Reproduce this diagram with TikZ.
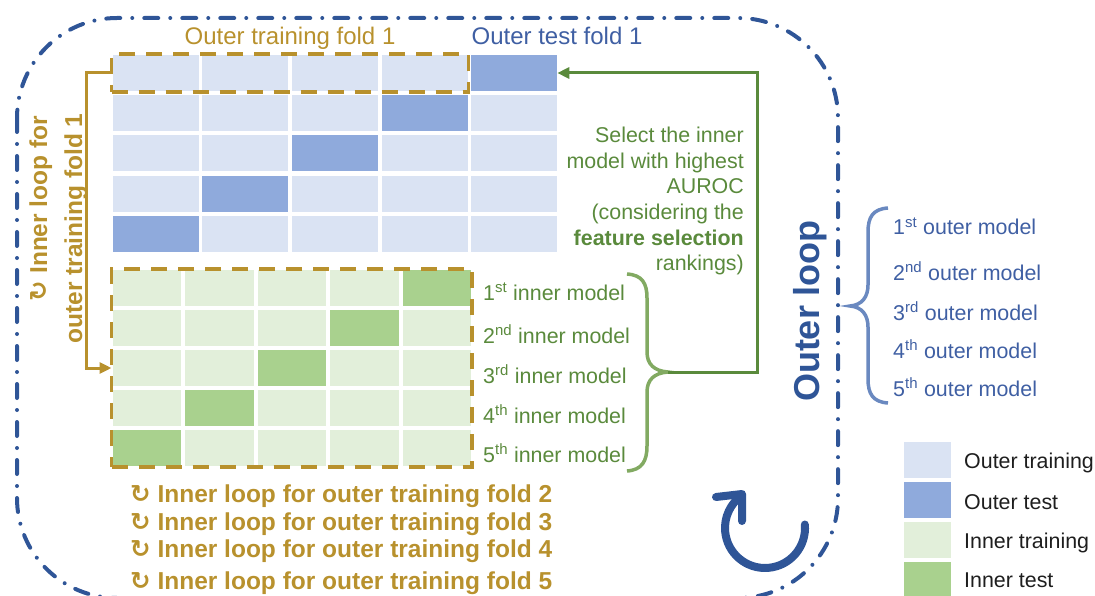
\documentclass[tikz,border=0pt]{standalone}
\usepackage{fontspec}
\setmainfont{Liberation Sans}
\newfontfamily\symfont{DejaVu Sans}
\usetikzlibrary{arrows.meta,fit,calc}
\definecolor{otrain}{HTML}{DAE3F3}
\definecolor{otest}{HTML}{8FAADC}
\definecolor{itrain}{HTML}{E2EFDA}
\definecolor{itest}{HTML}{A9D18E}
\definecolor{gold}{HTML}{B8912D}
\definecolor{dgreen}{HTML}{5A8A3C}
\definecolor{lgreen}{HTML}{82AA62}
\definecolor{dblue}{HTML}{2F5597}
\definecolor{mblue}{HTML}{3F5FA3}
\definecolor{lblue}{HTML}{6A89C0}
\definecolor{legtext}{HTML}{1E1E1E}
\newcommand{\loopsym}{{\symfont ↻}}
\begin{document}
\begin{tikzpicture}[x=1pt,y=-1pt,
  cell/.style={draw=none, inner sep=0pt, outer sep=0pt, anchor=north west},
  ocell/.style={cell, minimum width=86pt, minimum height=36pt},
  icell/.style={cell, minimum width=68.5pt, minimum height=36pt},
  legsq/.style={cell, minimum width=47pt, minimum height=36pt},
  goldbox/.style={draw=gold, line width=3.5pt, dash pattern=on 16pt off 11pt, inner sep=1pt, outer sep=0pt},
  txt/.style={inner sep=0pt, font=\fontsize{21.4}{25.5}\selectfont},
  lab/.style={txt, anchor=base west},
  ttl/.style={inner sep=0pt, anchor=base, font=\fontsize{24}{28}\selectfont},
  gbold/.style={inner sep=0pt, text=gold, font=\fontsize{24.5}{28}\selectfont\bfseries},
  goldarrow/.style={draw=gold, line width=3pt, -{Triangle[length=12pt,width=11pt]}},
  greenarrow/.style={draw=dgreen, line width=3pt, -{Triangle[length=12pt,width=11pt]}},
]
\useasboundingbox (0,0) rectangle (1095,596);

% outer loop border
\draw[dblue, line width=4pt, line cap=round, dash pattern=on 14pt off 12pt on 0pt off 12pt, rounded corners=100pt] (17,18) rectangle (838,598);

% outer grid
\foreach \ro in {1,...,5}{\foreach \co in {1,...,5}{
  \ifnum\numexpr\ro+\co\relax=6 \def\fc{otest}\else\def\fc{otrain}\fi
  \node[ocell, fill=\fc] (o\ro\co) at ({112.5+(\co-1)*89.7}, {55+(\ro-1)*40.2}) {};
}}
% inner grid
\foreach \ro in {1,...,5}{\foreach \co in {1,...,5}{
  \ifnum\numexpr\ro+\co\relax=6 \def\fc{itest}\else\def\fc{itrain}\fi
  \node[icell, fill=\fc] (i\ro\co) at ({112.5+(\co-1)*72.5}, {270+(\ro-1)*40}) {};
}}

\node[goldbox, fit=(o11)(o14)] (obox) {};
\node[goldbox, fit=(i11)(i55)] (ibox) {};

% titles
\node[ttl, text=gold] (tf) at (290,44.5) {Outer training fold 1};
\node[ttl, text=mblue] (tt) at (557,44.5) {Outer test fold 1};

% gold arrow
\draw[goldarrow] (obox.west) -- ++(-25.5,0) |- (ibox.west);

% vertical gold text
\node[gbold, rotate=90, anchor=base] (v1) at (47,208.5) {\loopsym\ Inner loop for};
\node[gbold, rotate=90, anchor=base] (v2) at (82,228.5) {outer training fold 1};

% inner model labels
\node[lab, text=dgreen] (im1) at (483,300) {1\textsuperscript{st} inner model};
\node[lab, text=dgreen] (im2) at (483,343) {2\textsuperscript{nd} inner model};
\node[lab, text=dgreen] (im3) at (483,383) {3\textsuperscript{rd} inner model};
\node[lab, text=dgreen] (im4) at (483,423) {4\textsuperscript{th} inner model};
\node[lab, text=dgreen] (im5) at (483,462) {5\textsuperscript{th} inner model};

% green brace
\draw[lgreen, line width=3.5pt] (627,274) .. controls (642,275) and (647,283) .. (647,298) -- (647,352) .. controls (647,364) and (654,371) .. (668,372) .. controls (654,373) and (647,380) .. (647,392) -- (647,446) .. controls (647,461) and (642,470) .. (627,471);
\coordinate (gtip) at (668,372);

% green arrow
\draw[greenarrow] (gtip) -- ++(89,0) |- (o15.east);

% select text
\node[txt, anchor=base east, text=dgreen] (s1) at (744,143) {Select the inner};
\node[txt, anchor=base east, text=dgreen] (s2) at (744,168.5) {model with highest};
\node[txt, anchor=base east, text=dgreen] (s3) at (744,194) {AUROC};
\node[txt, anchor=base east, text=dgreen] (s4) at (744,219.5) {(considering the};
\node[txt, anchor=base east, text=dgreen, font=\fontsize{21.4}{25.5}\selectfont\bfseries] (s5) at (744,245) {feature selection};
\node[txt, anchor=base east, text=dgreen] (s6) at (744,270.5) {rankings)};

% bottom gold lines
\node[gbold, anchor=base west] (b2) at (130,502) {\loopsym\ Inner loop for outer training fold 2};
\node[gbold, anchor=base west] (b3) at (130,530) {\loopsym\ Inner loop for outer training fold 3};
\node[gbold, anchor=base west] (b4) at (130,557.5) {\loopsym\ Inner loop for outer training fold 4};
\node[gbold, anchor=base west] (b5) at (130,589) {\loopsym\ Inner loop for outer training fold 5};

% outer loop label
\node[inner sep=0pt, rotate=90, anchor=base, text=dblue, font=\fontsize{36}{40}\selectfont\bfseries] (ol) at (819,311) {Outer loop};

% circular arrow
\draw[dblue, line width=8pt, line cap=round] (804.85,524.5) arc[start angle=-5, end angle=235, radius=40];
\draw[dblue, line width=8pt, line cap=round, line join=round] (716,497) -- (742,494) -- (742,521);

% blue brace
\draw[lblue, line width=3.5pt] (888,208) .. controls (873,209) and (868,217) .. (868,232) -- (868,285) .. controls (868,297) and (862,305) .. (850,306) .. controls (862,307) and (868,315) .. (868,327) -- (868,379) .. controls (868,394) and (873,402) .. (888,403);

% outer model labels
\node[lab, text=mblue] (om1) at (893,235) {1\textsuperscript{st} outer model};
\node[lab, text=mblue] (om2) at (893,280) {2\textsuperscript{nd} outer model};
\node[lab, text=mblue] (om3) at (893,320) {3\textsuperscript{rd} outer model};
\node[lab, text=mblue] (om4) at (893,358) {4\textsuperscript{th} outer model};
\node[lab, text=mblue] (om5) at (893,396) {5\textsuperscript{th} outer model};

% legend
\node[legsq, fill=otrain] (l1) at (904,442) {};
\node[legsq, fill=otest] (l2) at (904,482) {};
\node[legsq, fill=itrain] (l3) at (904,522) {};
\node[legsq, fill=itest] (l4) at (904,562) {};
\node[lab, text=legtext] (lt1) at (964,468) {Outer training};
\node[lab, text=legtext] (lt2) at (964,509) {Outer test};
\node[lab, text=legtext] (lt3) at (964,548) {Inner training};
\node[lab, text=legtext] (lt4) at (964,587) {Inner test};
\end{tikzpicture}
\end{document}
